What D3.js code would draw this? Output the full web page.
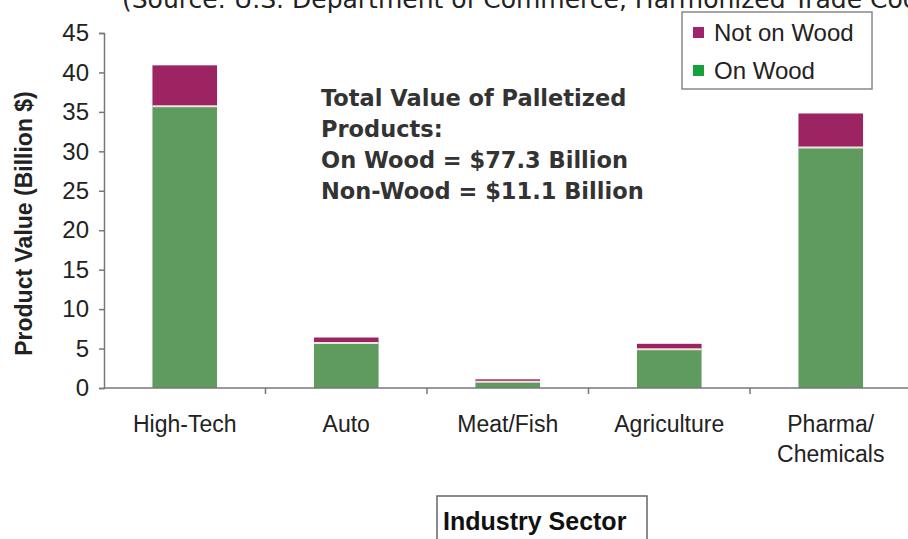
<!DOCTYPE html>
<html>
<meta charset="utf-8">
<style>
  body { margin: 0; background: #fff; }
  svg { display: block; }
</style>
<body>
<svg width="908" height="539"></svg>
<script src="https://d3js.org/d3.v7.min.js"></script>
<script>
// data (billion $)
const sectors = ["High-Tech", "Auto", "Meat/Fish", "Agriculture", "Pharma/\nChemicals"];
const onWood = [35.7, 5.7, 0.8, 4.9, 30.5];
const notOnWood = [5.2, 0.7, 0.3, 0.7, 4.3];
const yTicks = [0, 5, 10, 15, 20, 25, 30, 35, 40, 45];
const legendNames = ["Not on Wood", "On Wood"];
const noteLines = ["Total Value of Palletized", "Products:", "On Wood = $77.3 Billion", "Non-Wood = $11.1 Billion"];

const svg = d3.select("svg");
const margin = {top: 33, left: 104, bottom: 151};
const height = 539;

const green = "#5f9a5f", magenta = "#9c2463";
const legendColors = ["#a0246a", "#17a03f"];

const x = d3.scaleBand()
    .domain(sectors)
    .range([104, 911.5])
    .paddingInner(0.6)
    .paddingOuter(0.3);

const y = d3.scaleLinear()
    .domain([0, 45])
    .range([height - margin.bottom, margin.top]);

// source line, cut off at the top like the original
svg.append("text")
    .attr("x", 122).attr("y", 8)
    .style("font-family", "DejaVu Sans")
    .style("font-size", "25px")
    .attr("fill", "#222")
    .text("(Source: U.S. Department of Commerce, Harmonized Trade Codes)");

// bars
const rows = sectors.map((s, i) => ({s: s, wood: onWood[i], other: notOnWood[i]}));
const barG = svg.append("g");
barG.selectAll(".other").data(rows).enter().append("rect")
    .attr("x", d => x(d.s))
    .attr("width", x.bandwidth())
    .attr("y", d => y(d.wood + d.other))
    .attr("height", d => y(d.wood) - y(d.wood + d.other))
    .attr("fill", magenta);
barG.selectAll(".wood").data(rows).enter().append("rect")
    .attr("x", d => x(d.s))
    .attr("width", x.bandwidth())
    .attr("y", d => y(d.wood))
    .attr("height", d => y(0) - y(d.wood))
    .attr("fill", green);
barG.selectAll("line").data(rows).enter().append("line")
    .attr("x1", d => x(d.s)).attr("x2", d => x(d.s) + x.bandwidth())
    .attr("y1", d => y(d.wood)).attr("y2", d => y(d.wood))
    .attr("stroke", "#eee6df").attr("stroke-width", 2);

// y axis
const yAxis = d3.axisLeft(y).tickValues(yTicks).tickSize(5).tickPadding(10);
const yG = svg.append("g")
    .attr("transform", `translate(${margin.left},0)`)
    .call(yAxis);
yG.select(".domain").attr("stroke", "#777").attr("stroke-width", 1.5);
yG.selectAll(".tick line").attr("stroke", "#777").attr("stroke-width", 1.5);
yG.selectAll(".tick text")
    .style("font-family", "Liberation Sans")
    .style("font-size", "24px")
    .attr("fill", "#222");

// x axis: line plus ticks between the sectors
svg.append("line")
    .attr("x1", margin.left).attr("x2", 908)
    .attr("y1", y(0)).attr("y2", y(0))
    .attr("stroke", "#777").attr("stroke-width", 1.5);
const step = x.step();
svg.selectAll(".xtick").data(sectors.slice(1)).enter().append("line")
    .attr("x1", d => x(d) - step * x.paddingInner() / 2)
    .attr("x2", d => x(d) - step * x.paddingInner() / 2)
    .attr("y1", y(0)).attr("y2", y(0) + 6)
    .attr("stroke", "#777").attr("stroke-width", 1.5);

const labG = svg.selectAll(".xlab").data(sectors).enter().append("text")
    .attr("text-anchor", "middle")
    .attr("transform", d => `translate(${x(d) + x.bandwidth() / 2},${y(0) + 44})`)
    .style("font-family", "Liberation Sans")
    .style("font-size", "23px")
    .attr("fill", "#222");
labG.selectAll("tspan").data(d => d.split("\n")).enter().append("tspan")
    .attr("x", 0)
    .attr("dy", (d, i) => i ? 30 : 0)
    .text(d => d);

// y axis title
svg.append("text")
    .attr("transform", `translate(32,${(y(0) + y(45)) / 2 + 13}) rotate(-90)`)
    .attr("text-anchor", "middle")
    .style("font-family", "Liberation Sans")
    .style("font-size", "23px")
    .style("font-weight", "bold")
    .attr("fill", "#222")
    .text("Product Value (Billion $)");

// x axis title in its box
svg.append("rect")
    .attr("x", 437).attr("y", 496).attr("width", 210).attr("height", 60)
    .attr("fill", "none").attr("stroke", "#666").attr("stroke-width", 1.5);
svg.append("text")
    .attr("x", 443).attr("y", 530)
    .style("font-family", "Liberation Sans")
    .style("font-size", "25px")
    .style("font-weight", "bold")
    .attr("fill", "#111")
    .text("Industry Sector");

// note
svg.append("text")
    .attr("x", 321).attr("y", 106)
    .style("font-family", "DejaVu Sans")
    .style("font-size", "22.5px")
    .style("font-weight", "bold")
    .attr("fill", "#333")
    .selectAll("tspan").data(noteLines).enter().append("tspan")
    .attr("x", 321)
    .attr("dy", (d, i) => i ? 31 : 0)
    .text(d => d);

// legend
const lg = svg.append("g").attr("transform", "translate(682,12)");
lg.append("rect")
    .attr("width", 190).attr("height", 77)
    .attr("fill", "#fff").attr("stroke", "#888").attr("stroke-width", 1.5);
const items = lg.selectAll(".item").data(legendNames).enter().append("g")
    .attr("transform", (d, i) => `translate(11,${21 + i * 38})`);
items.append("rect")
    .attr("x", 0).attr("y", -6).attr("width", 11).attr("height", 11)
    .attr("fill", (d, i) => legendColors[i]);
items.append("text")
    .attr("x", 21).attr("y", 8)
    .style("font-family", "Liberation Sans")
    .style("font-size", "24px")
    .attr("fill", "#222")
    .text(d => d);
</script>
</body>
</html>
